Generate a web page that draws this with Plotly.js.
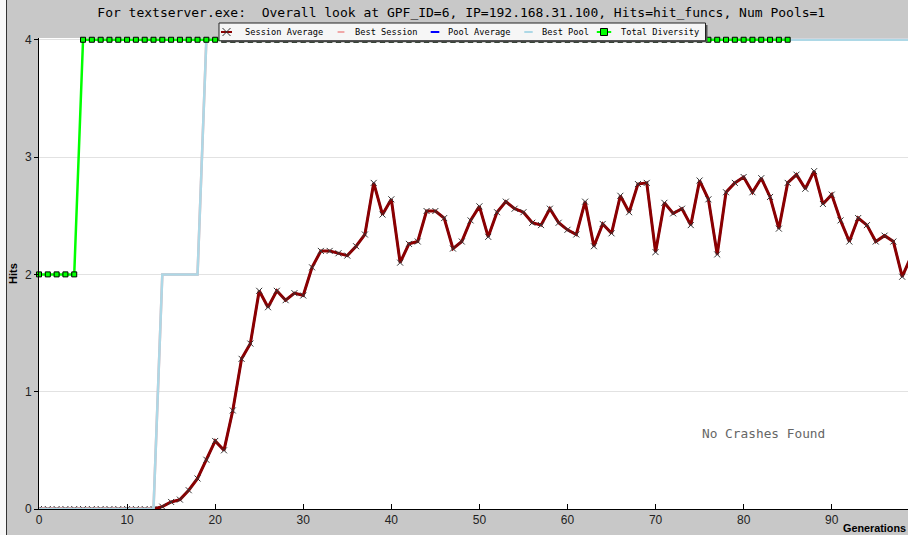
<!DOCTYPE html>
<html>
<head>
<meta charset="utf-8">
<script src="https://cdn.plot.ly/plotly-3.0.1.min.js"></script>
<style>
  html, body { margin: 0; padding: 0; background: #c8c8c8; }
  #chart { width: 908px; height: 535px; }
</style>
</head>
<body>
<div id="chart"></div>
<script>
// ---- data ----
const generations = Array.from({length: 100}, (_, i) => i);

const sessionAverage = [
  0, 0, 0, 0, 0, 0, 0, 0, 0, 0,
  0, 0, 0, 0, 0.02, 0.06, 0.08, 0.16, 0.26, 0.42,
  0.58, 0.50, 0.84, 1.28, 1.41, 1.86, 1.72, 1.86, 1.78, 1.84,
  1.82, 2.06, 2.20, 2.20, 2.18, 2.16, 2.24, 2.34, 2.78, 2.51,
  2.64, 2.10, 2.26, 2.28, 2.54, 2.54, 2.48, 2.22, 2.28, 2.46,
  2.58, 2.32, 2.53, 2.62, 2.56, 2.53, 2.44, 2.42, 2.56, 2.44,
  2.38, 2.34, 2.62, 2.24, 2.43, 2.35, 2.67, 2.53, 2.77, 2.78,
  2.19, 2.61, 2.52, 2.56, 2.42, 2.80, 2.64, 2.17, 2.70, 2.78,
  2.83, 2.70, 2.82, 2.66, 2.39, 2.78, 2.85, 2.73, 2.88, 2.60,
  2.68, 2.46, 2.28, 2.48, 2.42, 2.28, 2.33, 2.28, 1.98, 2.15
];

const poolAverage = sessionAverage.slice();

const bestPool = [
  0, 0, 0, 0, 0, 0, 0, 0, 0, 0,
  0, 0, 0, 0, 2, 2, 2, 2, 2, 4,
  4, 4, 4, 4, 4, 4, 4, 4, 4, 4,
  4, 4, 4, 4, 4, 4, 4, 4, 4, 4,
  4, 4, 4, 4, 4, 4, 4, 4, 4, 4,
  4, 4, 4, 4, 4, 4, 4, 4, 4, 4,
  4, 4, 4, 4, 4, 4, 4, 4, 4, 4,
  4, 4, 4, 4, 4, 4, 4, 4, 4, 4,
  4, 4, 4, 4, 4, 4, 4, 4, 4, 4,
  4, 4, 4, 4, 4, 4, 4, 4, 4, 4
];

const bestSession = bestPool.slice();

const diversityGenerations = Array.from({length: 86}, (_, i) => i);
const totalDiversity = [
  2, 2, 2, 2, 2, 4, 4, 4, 4, 4,
  4, 4, 4, 4, 4, 4, 4, 4, 4, 4,
  4, 4, 4, 4, 4, 4, 4, 4, 4, 4,
  4, 4, 4, 4, 4, 4, 4, 4, 4, 4,
  4, 4, 4, 4, 4, 4, 4, 4, 4, 4,
  4, 4, 4, 4, 4, 4, 4, 4, 4, 4,
  4, 4, 4, 4, 4, 4, 4, 4, 4, 4,
  4, 4, 4, 4, 4, 4, 4, 4, 4, 4,
  4, 4, 4, 4, 4, 4
];

const xTicks = [0, 10, 20, 30, 40, 50, 60, 70, 80, 90];
const yTicks = [0, 1, 2, 3, 4];

const legendNames = ["Session Average", "Best Session", "Pool Average", "Best Pool", "Total Diversity"];

const titleText = "For textserver.exe:  Overall look at GPF_ID=6, IP=192.168.31.100, Hits=hit_funcs, Num Pools=1";

// ---- styles ----
const COLORS = {
  session: "#8b0000", bestSession: "#f0a8a8", pool: "#0000ff",
  bestPool: "#add8e6", diversity: "#00ff00"
};

// ---- traces (draw order keeps the session line above the pool average) ----
const traces = [
  {
    name: legendNames[2], x: generations, y: poolAverage,
    type: "scatter", mode: "lines",
    line: {color: COLORS.pool, width: 2}
  },
  {
    name: legendNames[0], x: generations, y: sessionAverage,
    type: "scatter", mode: "lines+markers",
    line: {color: COLORS.session, width: 3},
    marker: {symbol: "x-thin", size: 6, color: "#333333", line: {color: "#333333", width: 1}}
  },
  {
    name: legendNames[1], x: generations, y: bestSession,
    type: "scatter", mode: "lines",
    line: {color: COLORS.bestSession, width: 2.5}
  },
  {
    name: legendNames[3], x: generations, y: bestPool,
    type: "scatter", mode: "lines",
    line: {color: COLORS.bestPool, width: 2.5}
  },
  {
    name: legendNames[4], x: diversityGenerations, y: totalDiversity,
    type: "scatter", mode: "lines+markers",
    line: {color: COLORS.diversity, width: 2.5},
    marker: {symbol: "square", size: 5, color: COLORS.diversity, line: {color: "#000000", width: 1}},
    cliponaxis: false
  }
];

// plot-area pixel geometry helpers (layout decoration only)
const L = 39, T = 38, PW = 869, PH = 471, B = 26;
const px = v => (v - L) / PW;
const py = v => (T + PH - v) / PH;

// ---- compact legend (box, keys and labels) laid out in pixels ----
const legBox = {x0: 219, x1: 705.5, y0: 23, y1: 40.8};
const legRowY = 32;
const legSymX = [226.5, 341, 435, 528.5, 604];
const legSymHalf = [5.5, 3.4, 4.3, 4.2, 7.2];
const legTextX = [242.7, 352.7, 446, 540, 619];
const legColors = [COLORS.session, COLORS.bestSession, COLORS.pool, COLORS.bestPool, COLORS.diversity];

const shapes = [
  // light frame strip on the far left
  {type: "rect", xref: "paper", yref: "paper", layer: "above",
   x0: px(0), x1: px(6), y0: py(535), y1: py(0),
   fillcolor: "#f8f8f8", line: {width: 0}},
  {type: "line", xref: "paper", yref: "paper", layer: "above",
   x0: px(6.5), x1: px(6.5), y0: py(535), y1: py(0),
   line: {color: "#333333", width: 1}},
  // legend shadow and box
  {type: "rect", xref: "paper", yref: "paper", layer: "above",
   x0: px(legBox.x0 + 2), x1: px(legBox.x1 + 2), y0: py(legBox.y1 + 1.5), y1: py(legBox.y0 + 2),
   fillcolor: "#555555", line: {width: 0}},
  {type: "rect", xref: "paper", yref: "paper", layer: "above",
   x0: px(legBox.x0), x1: px(legBox.x1), y0: py(legBox.y1), y1: py(legBox.y0),
   fillcolor: "#f6f6f6", line: {color: "#222222", width: 1}}
];

legendNames.forEach((name, i) => {
  shapes.push({
    type: "line", xref: "paper", yref: "paper", layer: "above",
    x0: px(legSymX[i] - legSymHalf[i]), x1: px(legSymX[i] + legSymHalf[i]),
    y0: py(legRowY), y1: py(legRowY),
    line: {color: legColors[i], width: 2}
  });
});
// session-average key: an x across the line
shapes.push(
  {type: "line", xref: "paper", yref: "paper", layer: "above",
   x0: px(legSymX[0] - 4), x1: px(legSymX[0] + 4), y0: py(legRowY - 4), y1: py(legRowY + 4),
   line: {color: "#333333", width: 1}},
  {type: "line", xref: "paper", yref: "paper", layer: "above",
   x0: px(legSymX[0] - 4), x1: px(legSymX[0] + 4), y0: py(legRowY + 4), y1: py(legRowY - 4),
   line: {color: "#333333", width: 1}}
);
// total-diversity key: green square with black edge
shapes.push({
  type: "rect", xref: "paper", yref: "paper", layer: "above",
  x0: px(legSymX[4] - 3.5), x1: px(legSymX[4] + 3.5), y0: py(legRowY + 3.5), y1: py(legRowY - 3.5),
  fillcolor: COLORS.diversity, line: {color: "#000000", width: 1}
});

const annotations = legendNames.map((name, i) => ({
  text: name, xref: "paper", yref: "paper",
  x: px(legTextX[i]), y: py(legRowY), xanchor: "left", yanchor: "middle",
  showarrow: false,
  font: {family: "DejaVu Sans Mono, monospace", size: 8.67, color: "#000000"}
}));

annotations.push(
  {
    text: "No Crashes Found", xref: "paper", yref: "paper",
    x: 0.834, y: 0.161, xanchor: "center", yanchor: "middle",
    showarrow: false,
    font: {family: "DejaVu Sans Mono, monospace", size: 12.8, color: "#666666"}
  },
  {
    text: "<b>Generations</b>", xref: "paper", yref: "paper",
    x: px(841), y: py(528), xanchor: "left", yanchor: "middle",
    showarrow: false,
    font: {family: "Liberation Sans, Arial, sans-serif", size: 10.8, color: "#000000"}
  }
);

const layout = {
  width: 908, height: 535,
  paper_bgcolor: "#c8c8c8",
  plot_bgcolor: "#ffffff",
  margin: {l: L, r: 0, t: T, b: B, pad: 0},
  showlegend: false,
  title: {
    text: titleText,
    font: {family: "DejaVu Sans Mono, monospace", size: 13, color: "#000000"},
    x: 0.508, xref: "container", xanchor: "center",
    y: 0.976, yref: "container", yanchor: "middle"
  },
  xaxis: {
    range: [0, 98.66],
    tickmode: "array", tickvals: xTicks, ticktext: xTicks.map(String),
    ticks: "inside", ticklen: 5, tickwidth: 1, tickcolor: "#000000",
    showline: true, linecolor: "#000000", linewidth: 1,
    showgrid: false, zeroline: false,
    tickfont: {family: "Liberation Sans Narrow, Arial Narrow, Liberation Sans, sans-serif", size: 12, color: "#222222"}
  },
  yaxis: {
    range: [0, 4.015],
    tickmode: "array", tickvals: yTicks, ticktext: yTicks.map(String),
    ticks: "outside", ticklen: 4, tickwidth: 1, tickcolor: "#000000",
    showline: true, linecolor: "#000000", linewidth: 1,
    showgrid: true, gridcolor: "#e2e2e2", gridwidth: 1,
    zeroline: false,
    tickfont: {family: "Liberation Sans Narrow, Arial Narrow, Liberation Sans, sans-serif", size: 12, color: "#222222"},
    title: {
      text: "Hits", standoff: 5,
      font: {family: "Liberation Sans, Arial, sans-serif", size: 11, color: "#000000", weight: "bold"}
    }
  },
  shapes: shapes,
  annotations: annotations
};

Plotly.newPlot("chart", traces, layout, {displayModeBar: false, staticPlot: true});
</script>
</body>
</html>
